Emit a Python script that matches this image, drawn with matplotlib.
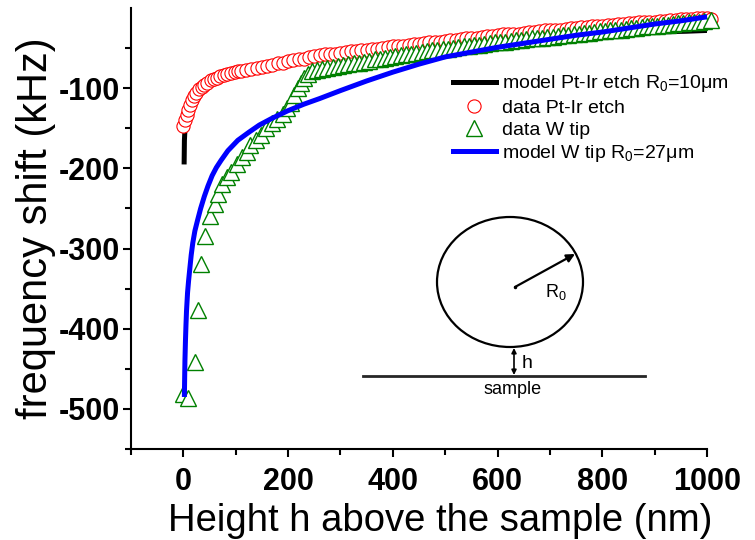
import matplotlib
matplotlib.use('Agg')
import matplotlib.pyplot as plt
from matplotlib.patches import Ellipse

plt.rcParams['font.family'] = ['Liberation Sans', 'DejaVu Sans']
plt.rcParams['mathtext.fontset'] = 'custom'
plt.rcParams['mathtext.rm'] = 'Liberation Sans'
plt.rcParams['mathtext.it'] = 'Liberation Sans:italic'
plt.rcParams['axes.unicode_minus'] = False

# data Pt-Ir etch (red circles)
ptir_x = [0, 3, 6, 9, 12, 16, 20, 25, 30, 35, 40, 46, 52, 58, 64, 70, 77, 84, 91, 98, 105,
          110, 120, 130, 140, 150, 160, 170, 180, 190, 200, 210, 220, 230, 240, 250, 260, 270,
          280, 290, 300, 310, 320, 330, 340, 350, 360, 370, 380, 390, 400, 410, 420, 430, 440,
          450, 460, 470, 480, 490, 500, 510, 520, 530, 540, 550, 560, 570, 580, 590, 600, 610,
          620, 630, 640, 650, 660, 670, 680, 690, 700, 710, 720, 730, 740, 750, 760, 770, 780,
          790, 800, 810, 820, 830, 840, 850, 860, 870, 880, 890, 900, 910, 920, 930, 940, 950,
          960, 970, 980, 990, 1000, 1008]
ptir_y = [-147, -140, -134, -127, -121, -115, -110, -106, -101, -98, -96, -93, -90, -88, -87, -85, -84, -82, -81, -80, -79,
          -78, -77, -76, -75, -73, -72, -71, -69, -68, -66, -65, -64, -63, -61, -60, -59, -58,
          -57, -57, -56, -55, -54, -54, -53, -52, -51, -51, -50, -49, -48, -47, -47, -46, -45,
          -45, -44, -43, -42, -42, -41, -40, -40, -39, -38, -38, -37, -36, -35, -35, -34, -33,
          -33, -32, -32, -31, -30, -30, -29, -28, -28, -27, -27, -26, -25, -25, -24, -24, -23,
          -23, -22, -21, -21, -20, -20, -19, -19, -18, -18, -17, -17, -16, -16, -15, -15, -14,
          -14, -14, -13, -13, -13, -14]

# data W tip (green triangles)
w_x = [-1, 8, 22, 27, 33, 42, 50, 60, 67, 74, 83, 91, 102, 112, 121, 128, 139, 149, 158, 169,
       178, 190, 198, 205, 212, 218, 224, 230, 238, 246, 255, 265, 275, 285, 295, 305, 315, 325,
       335, 345, 355, 365, 375, 385, 395, 405, 415, 425, 435, 445, 455, 465, 475, 485, 495, 505,
       515, 525, 535, 545, 555, 565, 575, 585, 595, 605, 615, 625, 635, 645, 655, 665, 675, 685,
       695, 705, 715, 725, 735, 745, 755, 765, 775, 785, 795, 805, 815, 825, 835, 845, 855, 865,
       875, 885, 895, 905, 915, 925, 935, 945, 955, 965, 975, 985, 995, 1008]
w_y = [-481, -487, -442, -377, -319, -284, -259, -245, -232, -220, -211, -204, -194, -186, -180, -171, -165, -158, -150, -144,
       -138, -132, -125, -118, -108, -100, -93, -87, -82, -79, -77, -76, -75, -73, -72, -71, -70, -69,
       -68, -67, -66, -64, -63, -62, -61, -60, -59, -58, -57, -56, -55, -54, -53, -52, -51, -51,
       -50, -49, -48, -47, -46, -46, -45, -44, -43, -43, -42, -41, -40, -40, -39, -38, -38, -37,
       -36, -36, -35, -34, -34, -33, -32, -31, -31, -30, -29, -29, -28, -27, -27, -26, -25, -25,
       -24, -23, -23, -22, -21, -21, -20, -19, -19, -18, -17, -17, -16, -15]

# model Pt-Ir etch R0=10um (black line)
mptir_x = [1.5, 2, 3, 5, 8, 12, 20, 30, 45, 70, 100, 150, 200, 300, 400, 500, 600, 700, 800, 900, 960, 1000]
mptir_y = [-192, -165, -152, -141, -131, -122, -112, -104, -96, -88, -82, -75, -69, -60, -53, -48, -42, -37, -33, -30, -29, -28]

# model W tip R0=27um (blue line)
mw_x = [2, 2.5, 3, 4, 5, 6, 8, 10, 12, 15, 18, 22, 27, 33, 40, 47, 55, 63, 72, 85, 104, 125, 145,
        168, 200, 230, 260, 300, 350, 400, 450, 500, 550, 600, 650, 700, 750, 800, 850, 900, 950, 1000]
mw_y = [-482, -460, -440, -415, -395, -378, -355, -340, -327, -308, -293, -278, -265, -250, -235, -222,
        -209, -199, -190, -178, -165, -155, -146, -138, -128, -120, -113, -103, -91, -80, -70, -61,
        -55, -49, -44, -39, -34, -30, -25, -20, -16, -11]

fig = plt.figure(figsize=(7.55, 5.4), dpi=100)
ax = fig.add_axes([0.1735, 0.1685, 0.763, 0.8167])

ax.plot(mptir_x, mptir_y, color='black', lw=3.6, label=r'model Pt-Ir etch $\mathrm{R_0}$=10μm', zorder=2)
ax.plot(ptir_x, ptir_y, 'o', ms=9.5, mec='red', mfc='white', mew=0.8, label='data Pt-Ir etch',
        clip_on=False, zorder=3)
ax.plot(w_x, w_y, '^', ms=12, mec='green', mfc='white', mew=1.0, label='data W tip',
        clip_on=False, zorder=4)
ax.plot(mw_x, mw_y, color='blue', lw=3.6, label=r'model W tip $\mathrm{R_0}$=27μm', zorder=5)

ax.set_xlim(-100, 1000)
ax.set_ylim(-550, 0)
ax.set_xticks([0, 200, 400, 600, 800, 1000])
ax.set_xticks([-100, 100, 300, 500, 700, 900], minor=True)
ax.set_yticks([-500, -400, -300, -200, -100])
ax.set_yticks([-550, -450, -350, -250, -150, -50], minor=True)
for s in ['top', 'right']:
    ax.spines[s].set_visible(False)
for s in ['left', 'bottom']:
    ax.spines[s].set_linewidth(1.5)
ax.tick_params(which='major', direction='out', length=6, width=1.5, labelsize=22)
ax.tick_params(which='minor', direction='out', length=4, width=1.5)
ax.tick_params(axis='x', pad=7)
ax.tick_params(axis='y', pad=2)
for lab in ax.get_xticklabels() + ax.get_yticklabels():
    lab.set_fontweight('bold')

ax.set_xlabel('Height h above the sample (nm)', fontsize=27.5, va='center')
ax.xaxis.set_label_coords(0.536, -0.163)
ax.set_ylabel('frequency shift (kHz)', fontsize=30, labelpad=2)

ax.legend(loc='upper left', bbox_to_anchor=(0.6, 0.864), bbox_transform=fig.transFigure,
          frameon=False, fontsize=14, borderpad=0, borderaxespad=0, handlelength=2.2,
          handletextpad=0.3, labelspacing=0.23, numpoints=1)

# schematic of the sphere above the sample
ov = fig.add_axes([0, 0, 1, 1])
ov.set_xlim(0, 755)
ov.set_ylim(540, 0)
ov.axis('off')
ov.patch.set_alpha(0)
ov.add_patch(Ellipse((510, 282), 146, 130, fill=False, lw=1.6, ec='black'))
ov.plot([515], [287], 'k.', ms=3)
ov.annotate('', xy=(575, 254), xytext=(515, 287),
            arrowprops=dict(arrowstyle='-|>', lw=1.6, color='black', mutation_scale=12,
                            shrinkA=0, shrinkB=0))
ov.text(545, 292, r'$\mathrm{R_0}$', fontsize=13, va='center', ha='left')
ov.annotate('', xy=(514, 348), xytext=(514, 375),
            arrowprops=dict(arrowstyle='<|-|>', lw=1.2, color='black', mutation_scale=7,
                            shrinkA=0, shrinkB=0))
ov.text(522, 363, 'h', fontsize=14, va='center', ha='left')
ov.plot([363, 645], [376, 376], color='0.15', lw=2)
ov.text(513, 389, 'sample', fontsize=13, va='center', ha='center')

fig.savefig('out.png', dpi=100)
